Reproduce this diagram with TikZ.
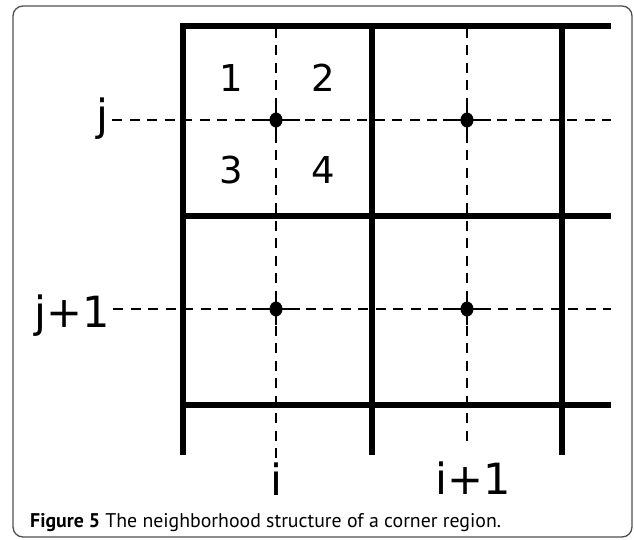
\documentclass[tikz,border=0pt]{standalone}
\usepackage{fontspec}
\setmainfont{PT Sans}
\newfontfamily\gridfont{DejaVu Sans}
\usetikzlibrary{positioning, shapes.geometric}
\definecolor{sframe}{HTML}{505050}
\tikzset{
  wall/.style={line width=5.5pt},
  guide/.style={line width=2.2pt, dash pattern=on 10pt off 7.5pt},
  cross/.style={line width=2.2pt},
  knot/.style={ellipse, fill=black, inner sep=0pt, minimum width=13pt, minimum height=15pt},
  idx/.style={font=\gridfont\fontsize{43}{43}\selectfont, inner sep=0pt},
  quad/.style={font=\gridfont\fontsize{37}{37}\selectfont, inner sep=0pt, anchor=base},
  capt/.style={font=\fontsize{19.8}{20}\selectfont, inner sep=0pt, anchor=base west}
}

\begin{document}
\begin{tikzpicture}[x=1pt, y=-1pt]
  \useasboundingbox (0,0) rectangle (634,540);
  \draw[sframe, line width=1.3pt, rounded corners=10pt] (13,6) rectangle (632,537);

  % thick cell walls
  \foreach \cx in {183,372,562}
    \draw[wall] (\cx,23.5) -- (\cx,455);
  \foreach \cy in {26,216,405}
    \draw[wall] (180.5,\cy) -- (611,\cy);

  % row and column labels
  \node[idx, anchor=base east, inner sep=3pt] (lj) at (112,131) {j};
  \node[idx, anchor=base east, inner sep=3pt] (ljj) at (113,327) {j+1};
  \node[idx, anchor=base, inner sep=4pt] (li) at (276,495) {i};
  \node[idx, anchor=base, inner sep=4pt] (lii) at (473,494) {i+1};

  \coordinate (jend) at (611,120);
  \coordinate (jjend) at (611,309);
  \coordinate (itop) at (276,28);
  \coordinate (iitop) at (467,28);
  \coordinate (iibot) at (467,447);

  % dashed guides
  \draw[guide] (lj.east |- jend) -- (jend);
  \draw[guide] (ljj.east |- jjend) -- (jjend);
  \draw[guide] (itop) -- (itop |- li.north);
  \draw[guide] (iitop) -- (iibot);

  % grid points
  \node[knot] (p11) at (276,120) {};
  \node[knot] (p21) at (467,120) {};
  \node[knot] (p12) at (276,309) {};
  \node[knot] (p22) at (467,309) {};
  \foreach \p in {p11,p21,p12,p22} {
    \draw[cross] (\p.center) ++(-24,0) -- ++(48,0);
    \draw[cross] (\p.center) ++(0,-16) -- ++(0,32);
  }

  % quadrants around (i,j)
  \node[quad] (q1) at (231,92) {1};
  \node[quad] (q2) at (323,92) {2};
  \node[quad] (q3) at (231,183) {3};
  \node[quad] (q4) at (323,183) {4};

  \node[capt] (cap) at (30,527) {\textbf{Figure 5} The neighborhood structure of a corner region.};
\end{tikzpicture}
\end{document}
